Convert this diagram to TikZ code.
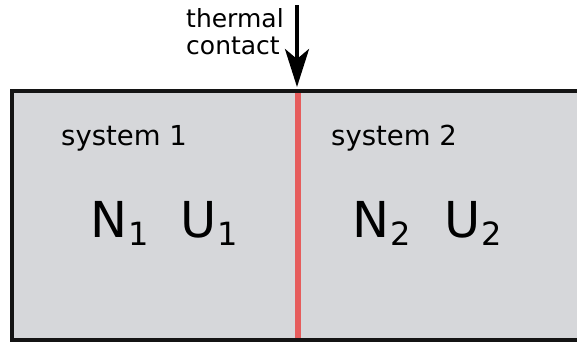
\documentclass[tikz,border=0pt]{standalone}
\usepackage{fontspec}
\setmainfont{DejaVu Sans}
\usetikzlibrary{arrows.meta}
\definecolor{boxgray}{RGB}{214,215,218}
\definecolor{contactred}{RGB}{230,92,92}
\newcommand{\mysub}[1]{\kern1pt\raisebox{-8pt}{\fontsize{32}{32}\selectfont #1}}
\begin{document}
\begin{tikzpicture}[x=1pt,y=-1pt,
  small/.style={inner sep=0pt,font=\fontsize{25}{29}\selectfont},
  label/.style={inner sep=0pt,font=\fontsize{27.5}{32}\selectfont},
  big/.style={inner sep=0pt,anchor=base west,font=\fontsize{49.5}{52}\selectfont},
  wall/.style={line width=4pt,black!92},
  contactline/.style={line width=6pt,contactred},
  arrowline/.style={line width=4pt,-{Stealth[length=38pt,width=24pt,inset=10pt]}}]
\useasboundingbox (0,0) rectangle (577,346);
\fill[boxgray] (12,91) rectangle (577,340);
\draw[wall] (580,91) -- (12,91) -- (12,340) -- (580,340);
\draw[contactline] (298,93) -- (298,338);
\coordinate (arrowstart) at (297,5);
\coordinate (arrowend) at (297,87);
\draw[arrowline] (arrowstart) -- (arrowend);
\node[small,anchor=base west] (thermal) at (186,27) {thermal};
\node[small,anchor=base west] (contact) at (186,54) {contact};
\node[label,anchor=base west] (sys1) at (61,145) {system 1};
\node[label,anchor=base west] (sys2) at (331,145) {system 2};
\node[big] (n1) at (90,237) {N\mysub{1}};
\node[big] (u1) at (180,237) {U\mysub{1}};
\node[big] (n2) at (352,237) {N\mysub{2}};
\node[big] (u2) at (444,237) {U\mysub{2}};
\end{tikzpicture}
\end{document}
